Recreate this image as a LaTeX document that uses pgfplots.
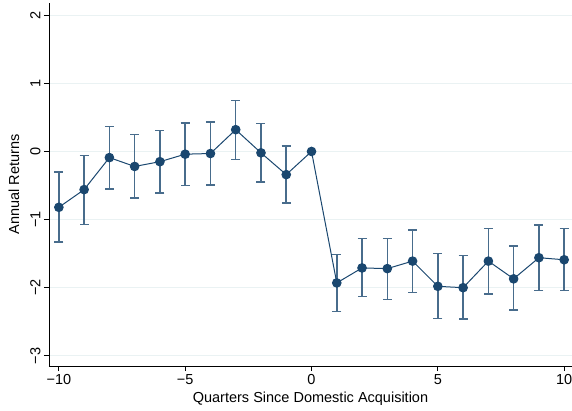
\documentclass[border=0pt]{standalone}
\usepackage{fontspec}
\setmainfont{Liberation Sans}
\usepackage{pgfplots}
\pgfplotsset{compat=1.18}
\usepackage{pgfplotstable}
\definecolor{navy}{RGB}{26,71,111}
\definecolor{gridc}{RGB}{234,242,243}
\pgfplotstableread{
x y ep em
-10 -0.82 0.52 0.51
-9 -0.56 0.50 0.51
-8 -0.09 0.46 0.46
-7 -0.22 0.47 0.46
-6 -0.15 0.46 0.46
-5 -0.04 0.46 0.46
-4 -0.03 0.46 0.46
-3 0.32 0.43 0.44
-2 -0.02 0.43 0.43
-1 -0.34 0.42 0.42
1 -1.93 0.42 0.42
2 -1.71 0.43 0.42
3 -1.72 0.44 0.45
4 -1.61 0.46 0.46
5 -1.98 0.48 0.47
6 -2.00 0.47 0.46
7 -1.61 0.48 0.48
8 -1.87 0.48 0.46
9 -1.56 0.48 0.48
10 -1.59 0.46 0.45
}\errdata
\pgfplotstableread{
x y
-10 -0.82
-9 -0.56
-8 -0.09
-7 -0.22
-6 -0.15
-5 -0.04
-4 -0.03
-3 0.32
-2 -0.02
-1 -0.34
0 0.00
1 -1.93
2 -1.71
3 -1.72
4 -1.61
5 -1.98
6 -2.00
7 -1.61
8 -1.87
9 -1.56
10 -1.59
}\linedata
\begin{document}
\begin{tikzpicture}
\begin{axis}[
  scale only axis,
  width=523pt, height=363pt,
  xmin=-10.39, xmax=10.31,
  ymin=-3.15, ymax=2.18,
  axis x line*=bottom, axis y line*=left,
  axis line style={black, line width=0.8pt, -},
  tick align=outside,
  major tick length=5pt,
  tick style={black, line width=0.8pt},
  xtick={-10,-5,0,5,10},
  xticklabels={−10,−5,0,5,10},
  ytick={-3,-2,-1,0,1,2},
  yticklabels={−3,−2,−1,0,1,2},
  yticklabel style={rotate=90, anchor=south},
  ymajorgrids,
  grid style={gridc, line width=0.8pt},
  tick label style={font=\fontsize{14.5}{17}\selectfont},
  label style={font=\fontsize{14.5}{17}\selectfont},
  xlabel={Quarters Since Domestic Acquisition},
  ylabel={Annual Returns},
  xlabel style={yshift=0pt},
  ylabel style={yshift=4pt},
  clip=false,
]
\addplot[draw=none, mark=none,
  error bars/.cd, y dir=both, y explicit,
  error bar style={draw=navy!80, line width=1.5pt},
  error mark options={rotate=90, draw=navy!80, mark size=4.5pt, line width=1.5pt}]
  table[x=x, y=y, y error plus=ep, y error minus=em] {\errdata};
\addplot[navy, line width=1pt, mark=*, mark size=4.3pt, mark options={fill=navy, draw=navy}]
  table[x=x, y=y] {\linedata};
\coordinate (bl) at (rel axis cs:0,0);
\coordinate (tr) at (rel axis cs:1,1);
\end{axis}
\pgfresetboundingbox
\path[use as bounding box] ([xshift=-49pt, yshift=-44pt]bl) rectangle ([yshift=3pt]tr);
\end{tikzpicture}
\end{document}
